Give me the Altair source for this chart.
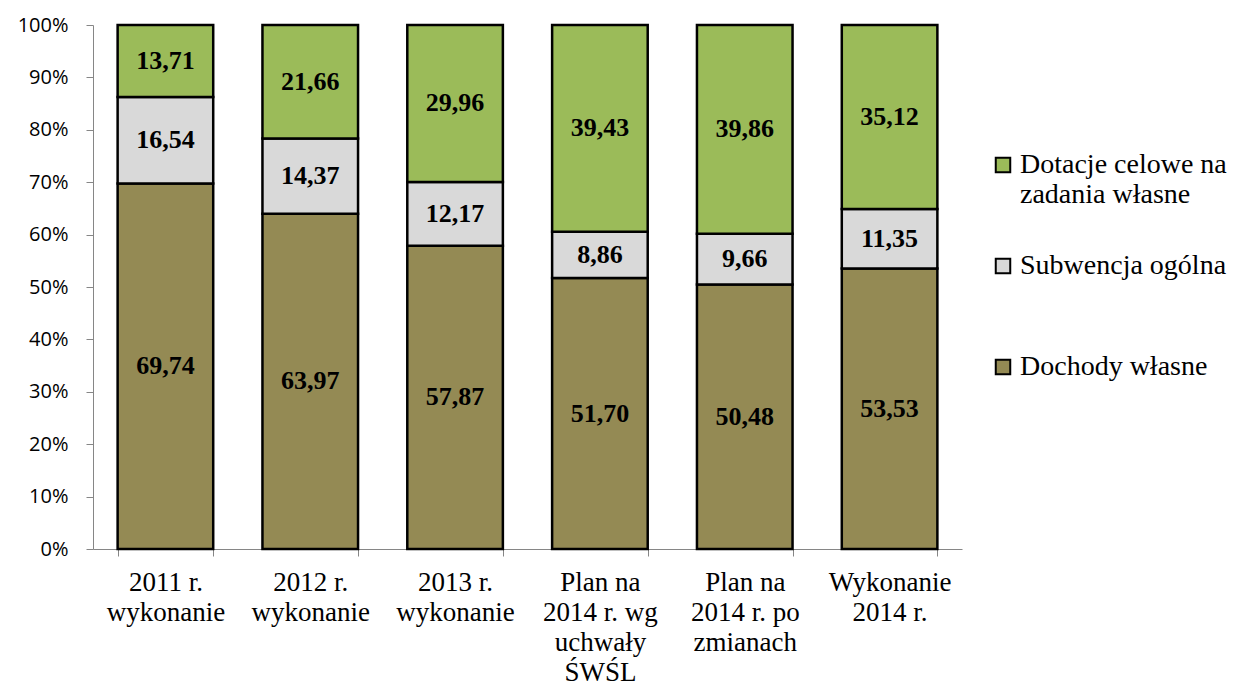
import altair as alt
import pandas as pd

categories = [
    "2011 r.\nwykonanie",
    "2012 r.\nwykonanie",
    "2013 r.\nwykonanie",
    "Plan na\n2014 r. wg\nuchwały\nŚWŚL",
    "Plan na\n2014 r. po\nzmianach",
    "Wykonanie\n2014 r.",
]
series = ["Dotacje celowe na zadania własne", "Subwencja ogólna", "Dochody własne"]
dochody = [69.74, 63.97, 57.87, 51.70, 50.48, 53.53]
subwencja = [16.54, 14.37, 12.17, 8.86, 9.66, 11.35]
dotacje = [13.71, 21.66, 29.96, 39.43, 39.86, 35.12]
colors = ["#9BBB59", "#D9D9D9", "#948A54"]
y_ticks = [0, 10, 20, 30, 40, 50, 60, 70, 80, 90, 100]

SERIF = "Liberation Serif, Times New Roman, serif"

rows = []
for i, c in enumerate(categories):
    rows.append({"cat": c, "series": series[2], "ord": 0, "value": dochody[i]})
    rows.append({"cat": c, "series": series[1], "ord": 1, "value": subwencja[i]})
    rows.append({"cat": c, "series": series[0], "ord": 2, "value": dotacje[i]})
df = pd.DataFrame(rows)

x_enc = alt.X(
    "cat:N",
    sort=categories,
    title=None,
    scale=alt.Scale(paddingInner=0.34, paddingOuter=0.17),
    axis=alt.Axis(
        labelAngle=0,
        labelExpr="split(datum.label, '\\n')",
        labelFont=SERIF,
        labelFontSize=27,
        labelLineHeight=30,
        labelColor="black",
        labelBaseline="top",
        labelPadding=13,
        tickBand="extent",
        tickSize=7,
        tickColor="#868686",
        domainColor="#868686",
        labelLimit=300,
    ),
)

base = alt.Chart(df).transform_stack(
    stack="value",
    groupby=["cat"],
    sort=[alt.SortField("ord", order="ascending")],
    as_=["y0", "y1"],
    offset="zero",
).transform_calculate(
    mid="(datum.y0 + datum.y1) / 2",
    lab="replace(format(datum.value, '.2f'), '.', ',')",
)

bars = base.mark_bar(stroke="black", strokeWidth=2.5).encode(
    x=x_enc,
    y=alt.Y(
        "y0:Q",
        title=None,
        scale=alt.Scale(domain=[0, 100], nice=False),
        axis=alt.Axis(
            values=y_ticks,
            labelExpr="datum.value + '%'",
            labelFont="Open Sans",
            labelFontSize=20,
            labelColor="black",
            labelPadding=18,
            tickSize=7,
            tickColor="#868686",
            domainColor="#868686",
            grid=False,
        ),
    ),
    y2="y1:Q",
    color=alt.Color(
        "series:N",
        scale=alt.Scale(domain=series, range=colors),
        legend=alt.Legend(
            title=None,
            orient="none",
            legendX=896,
            legendY=126,
            symbolType="square",
            symbolSize=210,
            symbolStrokeColor="black",
            symbolStrokeWidth=2,
            labelFont=SERIF,
            labelFontSize=28,
            labelColor="black",
            labelLimit=400,
            rowPadding=43,
            labelOffset=3,
            labelExpr="datum.label == 'Dotacje celowe na zadania własne' ? ['Dotacje celowe na', 'zadania własne'] : [datum.label, ' ']",
        ),
    ),
)

labels = base.mark_text(
    font=SERIF, fontSize=26, fontWeight="bold", color="black"
).encode(
    x=alt.X("cat:N", sort=categories),
    y=alt.Y("mid:Q"),
    text="lab:N",
)

chart = (
    alt.layer(bars, labels)
    .properties(
        width=869,
        height=524,
        autosize=alt.AutoSizeParams(type="none"),
        padding={"left": 85, "top": 17, "right": 269, "bottom": 136},
    )
    .configure_view(stroke=None)
)

chart.save("out.html", embed_options={"renderer": "svg", "actions": False})
